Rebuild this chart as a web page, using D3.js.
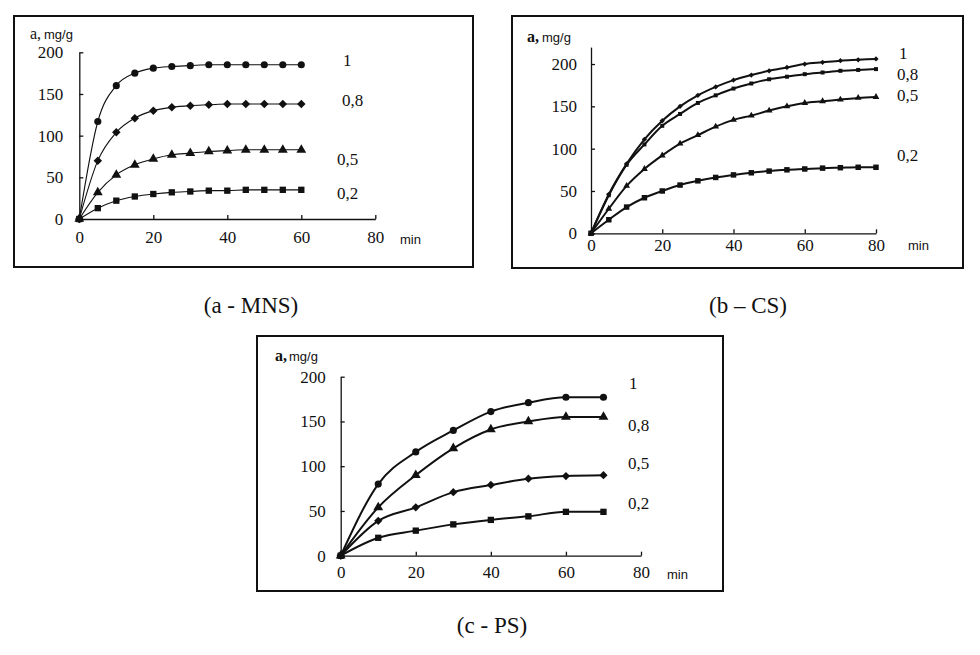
<!DOCTYPE html>
<html><head><meta charset="utf-8">
<script src="https://cdn.jsdelivr.net/npm/d3@7/dist/d3.min.js"></script>
<style>
html,body{margin:0;padding:0;background:#fff;}
svg{display:block;}
.serif{font-family:"Liberation Serif","Times New Roman","DejaVu Serif",serif;}
.sans{font-family:"Liberation Sans",Arial,sans-serif;}
</style></head>
<body><svg id="c" width="980" height="655"></svg>
<script>
// ---------- DATA ----------
const seriesLabels = ["1", "0,8", "0,5", "0,2"];
const yTickValues = [0, 50, 100, 150, 200];
const xTickValues = [0, 20, 40, 60, 80];
const panelCaptions = ["(a - MNS)", "(b \u2013 CS)", "(c - PS)"];

// panel a (MNS)
const timeA = [0, 5, 10, 15, 20, 25, 30, 35, 40, 45, 50, 55, 60];
const a_1   = [0, 117, 160, 175, 181, 183, 184, 185, 185, 185, 185, 185, 185];
const a_08  = [0, 70, 104, 121, 130, 134, 136, 137, 138, 138, 138, 138, 138];
const a_05  = [0, 32, 53, 65, 72, 77, 79, 81, 82, 83, 83, 83, 83];
const a_02  = [0, 13, 22, 27, 30, 32, 33, 34, 34, 35, 35, 35, 35];

// panel b (CS)
const timeB = [0, 5, 10, 15, 20, 25, 30, 35, 40, 45, 50, 55, 60, 65, 70, 75, 80];
const b_1   = [0, 46, 82, 111, 133, 150, 163, 173, 181, 187, 192, 196, 200, 202, 204, 205, 206];
const b_08  = [0, 45, 81, 105, 127, 141, 154, 163, 171, 177, 182, 185, 188, 190, 192, 193, 194];
const b_05  = [0, 29, 56, 76, 92, 106, 116, 126, 134, 139, 145, 150, 154, 156, 158, 160, 161];
const b_02  = [0, 16, 31, 42, 50, 57, 62, 66, 69, 71.5, 73.5, 75, 76, 77, 77.5, 78, 78];

// panel c (PS)
const timeC = [0, 10, 20, 30, 40, 50, 60, 70];
const c_1   = [0, 80, 116, 140, 161, 171, 177, 177];
const c_08  = [0, 54, 90, 120, 141, 150, 155, 155];
const c_05  = [0, 39, 54, 71, 79, 86, 89, 90];
const c_02  = [0, 20, 28, 35, 40, 44, 49, 49];

// ---------- LAYOUT ----------
const svg = d3.select("#c");

const panels = [
  { box:[14,16,473,267], xr:[79.3,375.3], yr:[219,52.3], ymax:200,
    time:timeA, series:[a_1,a_08,a_05,a_02],
    symbols:["circle","diamond","triangle","square"],
    symSize:[40,36,42,40], lw:1.1, xpad:12, ypad:16, boldA:false,
    aLab:[30,39,44], minLab:[400,244],
    labels:[[343,66],[342,106],[337,165],[337,199]], caption:[251,313] },
  { box:[512,16,963,268], xr:[591,876], yr:[233.3,47.1], ymax:220,
    time:timeB, series:[b_1,b_08,b_05,b_02],
    symbols:["diamond","square","triangle","square"],
    symSize:[14,16,20,30], lw:2, xpad:6, ypad:14, boldA:true,
    aLab:[527,41.5,542], minLab:[908,250],
    labels:[[899,59],[897,80],[897,101],[897,161]], caption:[748,313] },
  { box:[257,336,723,591], xr:[340.7,641], yr:[555.7,376.7], ymax:200,
    time:timeC, series:[c_1,c_08,c_05,c_02],
    symbols:["circle","triangle","diamond","square"],
    symSize:[40,42,34,40], lw:2, xpad:10, ypad:15, boldA:true,
    aLab:[275,361,289], minLab:[667,579],
    labels:[[629,389],[628,431],[628,469],[628,509]], caption:[492,633] }
];

const symType = { circle:d3.symbolCircle, triangle:d3.symbolTriangle, square:d3.symbolSquare, diamond:d3.symbolSquare };

panels.forEach((p, pi) => {
  const g = svg.append("g");
  g.append("rect").attr("x", p.box[0]).attr("y", p.box[1])
    .attr("width", p.box[2]-p.box[0]).attr("height", p.box[3]-p.box[1])
    .attr("fill", "#fff").attr("stroke", "#111").attr("stroke-width", 2);

  const x = d3.scaleLinear().domain([0, 80]).range(p.xr);
  const y = d3.scaleLinear().domain([0, p.ymax]).range(p.yr);

  const xAxis = d3.axisBottom(x).tickValues(xTickValues).tickSize(-4).tickSizeOuter(0).tickPadding(p.xpad);
  const yAxis = d3.axisLeft(y).tickValues(yTickValues).tickSize(-4).tickSizeOuter(0).tickPadding(p.ypad);

  const gx = g.append("g").attr("transform", `translate(0,${p.yr[0]})`).call(xAxis);
  const gy = g.append("g").attr("transform", `translate(${p.xr[0]},0)`).call(yAxis);
  [gx, gy].forEach(ax => {
    ax.attr("font-family", null).attr("font-size", null);
    ax.selectAll("path,line").attr("stroke", "#111").attr("stroke-width", 1.3);
    ax.selectAll("text").attr("class", "serif").style("font-size", "17px").attr("fill", "#111");
  });
  gx.selectAll(".tick").filter(d => d === 0).select("line").remove();

  const line = d3.line().x((d, i) => x(p.time[i])).y(d => y(d)).curve(d3.curveMonotoneX);
  p.series.forEach(s => {
    g.append("path").datum(s).attr("d", line)
      .attr("fill", "none").attr("stroke", "#111").attr("stroke-width", p.lw);
  });
  p.series.forEach((s, si) => {
    const kind = p.symbols[si];
    const sym = d3.symbol().type(symType[kind]).size(p.symSize[si]);
    g.append("g").selectAll("path").data(s).join("path")
      .attr("d", sym)
      .attr("transform", (d, i) => `translate(${x(p.time[i])},${y(d)})` + (kind === "diamond" ? " rotate(45)" : ""))
      .attr("fill", "#111");
  });

  seriesLabels.forEach((t, si) => {
    g.append("text").attr("class", "serif").attr("x", p.labels[si][0]).attr("y", p.labels[si][1])
      .style("font-size", "17px").attr("fill", "#111").text(t);
  });

  g.append("text").attr("class", "serif").attr("x", p.aLab[0]).attr("y", p.aLab[1])
    .style("font-size", "16px").style("font-weight", p.boldA ? "bold" : "normal").attr("fill", "#111").text("a,");
  g.append("text").attr("class", "sans").attr("x", p.aLab[2]).attr("y", p.aLab[1])
    .style("font-size", "13px").attr("fill", "#111").text("mg/g");
  g.append("text").attr("class", "sans").attr("x", p.minLab[0]).attr("y", p.minLab[1])
    .style("font-size", "13px").attr("fill", "#111").text("min");

  svg.append("text").attr("class", "serif").attr("x", p.caption[0]).attr("y", p.caption[1])
    .attr("text-anchor", "middle").style("font-size", "23px")
    .attr("fill", "#111").text(panelCaptions[pi]);
});
</script>
</body></html>
